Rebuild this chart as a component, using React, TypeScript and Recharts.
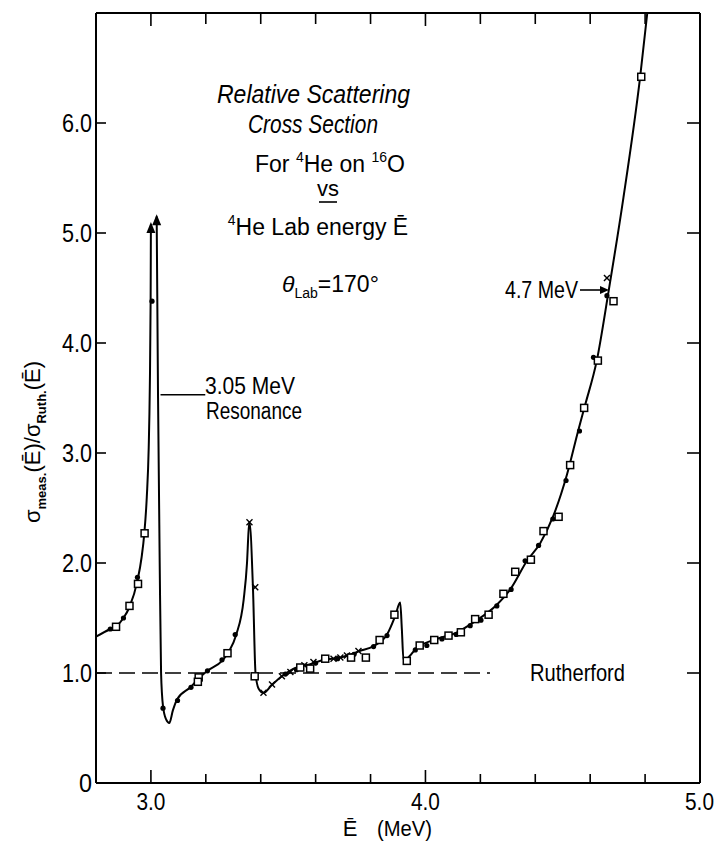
import React from 'react';
import { ComposedChart, Line, Scatter, XAxis, YAxis, ReferenceLine } from 'recharts';

// smooth curve through the measurements, [E (MeV), sigma ratio]
const curveLeft: [number, number][] = [
  [2.8, 1.33], [2.852, 1.4], [2.876, 1.43], [2.9, 1.5], [2.922, 1.6], [2.951, 1.84],
  [2.966, 2.05], [2.976, 2.27], [2.985, 2.6], [2.992, 3.05], [2.996, 3.6], [2.999, 4.4], [3.0, 5.08],
];
const curveRight: [number, number][] = [
  [3.021, 5.15], [3.026, 3.5], [3.032, 2.0], [3.037, 1.0], [3.044, 0.7], [3.055, 0.58], [3.067, 0.545],
  [3.08, 0.66], [3.095, 0.76], [3.146, 0.875], [3.174, 0.95], [3.206, 1.02], [3.259, 1.11],
  [3.283, 1.19], [3.311, 1.35], [3.338, 1.67], [3.35, 2.0], [3.356, 2.3], [3.359, 2.37],
  [3.372, 1.75], [3.381, 1.0], [3.392, 0.86], [3.41, 0.82], [3.44, 0.89], [3.477, 0.97],
  [3.52, 1.04], [3.58, 1.08], [3.63, 1.12], [3.69, 1.14], [3.73, 1.17], [3.76, 1.2],
  [3.811, 1.245], [3.86, 1.35], [3.89, 1.52], [3.908, 1.64], [3.914, 1.4], [3.92, 1.12],
  [3.932, 1.13], [3.969, 1.23], [4.03, 1.3], [4.115, 1.37], [4.175, 1.46], [4.26, 1.62],
  [4.309, 1.76], [4.37, 2.02], [4.418, 2.18], [4.466, 2.43], [4.515, 2.8], [4.557, 3.21],
  [4.582, 3.44], [4.624, 3.84], [4.667, 4.47], [4.721, 5.32], [4.782, 6.42], [4.808, 7.0],
];

const openSquares: [number, number][] = [
  [2.873, 1.42], [2.922, 1.61], [2.953, 1.81], [2.977, 2.27], [3.174, 0.96], [3.171, 0.92],
  [3.279, 1.18], [3.378, 0.97], [3.544, 1.05], [3.58, 1.04], [3.635, 1.13], [3.729, 1.14],
  [3.783, 1.14], [3.833, 1.3], [3.887, 1.53], [3.932, 1.11], [3.979, 1.25], [4.032, 1.3],
  [4.084, 1.34], [4.129, 1.37], [4.181, 1.49], [4.23, 1.53], [4.284, 1.72], [4.327, 1.92],
  [4.384, 2.03], [4.43, 2.29], [4.485, 2.42], [4.527, 2.89], [4.578, 3.41], [4.628, 3.84],
  [4.685, 4.38], [4.786, 6.42],
];

const filledDots: [number, number][] = [
  [2.852, 1.4], [2.9, 1.5], [2.951, 1.87], [3.004, 4.38], [3.044, 0.68], [3.097, 0.75],
  [3.146, 0.87], [3.206, 1.02], [3.259, 1.12], [3.307, 1.35], [3.49, 0.99], [3.53, 1.03],
  [3.6, 1.09], [3.68, 1.13], [3.74, 1.17], [3.811, 1.24], [3.86, 1.34], [3.963, 1.21],
  [4.005, 1.25], [4.06, 1.31], [4.112, 1.35], [4.163, 1.43], [4.202, 1.48], [4.26, 1.61],
  [4.312, 1.76], [4.363, 2.02], [4.412, 2.16], [4.464, 2.4], [4.512, 2.75], [4.561, 3.2],
  [4.612, 3.87], [4.661, 4.43],
];

const crosses: [number, number][] = [
  [3.359, 2.37], [3.38, 1.78], [3.41, 0.82], [3.441, 0.895], [3.477, 0.97], [3.508, 1.01],
  [3.559, 1.07], [3.592, 1.1], [3.665, 1.13], [3.69, 1.14], [3.714, 1.16], [3.756, 1.2],
  [4.661, 4.59],
];

const peakArrows: [number, number][] = [[3.0, 5.1], [3.021, 5.17]];

const xTicks = [3.0, 3.2, 3.4, 3.6, 3.8, 4.0, 4.2, 4.4, 4.6, 4.8, 5.0];
const xLabels = [3.0, 4.0, 5.0];
const yTicks = [0, 1, 2, 3, 4, 5, 6];

const rutherfordEnd = 4.235;
const resonancePointer: [number, number][] = [[3.035, 3.53], [3.198, 3.53]];

const toPoints = (arr: [number, number][]) => arr.map(([E, v]) => ({ E, v }));
const curveData = [...toPoints(curveLeft), { E: 3.01, v: null }, ...toPoints(curveRight)];

const FONT = "'Liberation Sans', Arial, sans-serif";

const BottomTick = (props: any) => {
  const { x, y, payload } = props;
  const major = xLabels.includes(payload.value);
  const last = payload.value === 5.0;
  return (
    <g>
      <line x1={x} y1={y} x2={x} y2={y - (major ? 13 : 9)} stroke="#000" strokeWidth={1.6} />
      {major && (
        <text x={last ? x + 14 : x} y={y + 27} textAnchor={last ? 'end' : 'middle'} fontSize={23} fontFamily={FONT} fill="#000"
          textLength={29} lengthAdjust="spacingAndGlyphs">
          {payload.value.toFixed(1)}
        </text>
      )}
    </g>
  );
};

const TopTick = (props: any) => {
  const { x, y, payload } = props;
  const major = xLabels.includes(payload.value);
  return <line x1={x} y1={y} x2={x} y2={y + (major ? 13 : 11)} stroke="#000" strokeWidth={1.6} />;
};

const LeftTick = (props: any) => {
  const { x, y, payload } = props;
  const label = payload.value === 0 ? '0' : payload.value.toFixed(1);
  return (
    <g>
      {payload.value > 0 && <line x1={x} y1={y} x2={x + 10} y2={y} stroke="#000" strokeWidth={1.6} />}
      <text x={x - 4} y={y + 9} textAnchor="end" fontSize={25} fontFamily={FONT} fill="#000"
        textLength={payload.value === 0 ? 13 : 30} lengthAdjust="spacingAndGlyphs">
        {label}
      </text>
    </g>
  );
};

const RightTick = (props: any) => {
  const { x, y, payload } = props;
  if (payload.value === 0) return <g />;
  return <line x1={x} y1={y} x2={x - 13} y2={y} stroke="#000" strokeWidth={1.6} />;
};

const OpenSquare = (props: any) => (
  <rect x={props.cx - 3.5} y={props.cy - 3.5} width={7} height={7} fill="#fff" stroke="#000" strokeWidth={1.5} />
);
const Dot = (props: any) => <circle cx={props.cx} cy={props.cy} r={2.6} fill="#000" />;
const Cross = (props: any) => (
  <g stroke="#000" strokeWidth={1.4}>
    <line x1={props.cx - 3} y1={props.cy - 3} x2={props.cx + 3} y2={props.cy + 3} />
    <line x1={props.cx - 3} y1={props.cy + 3} x2={props.cx + 3} y2={props.cy - 3} />
  </g>
);
const ArrowHead = (props: any) => (
  <path d={`M${props.cx},${props.cy} L${props.cx - 4.5},${props.cy + 11} L${props.cx + 4.5},${props.cy + 11} Z`} fill="#000" />
);

export default function App() {
  return (
    <div style={{ position: 'absolute', left: 0, top: 0, width: 717, height: 843, background: '#fff' }}>
      <ComposedChart width={717} height={843} margin={{ top: 12, right: 16, bottom: 0, left: 36 }}>
        <XAxis
          xAxisId="b"
          type="number"
          dataKey="E"
          domain={[2.8, 5.0]}
          ticks={xTicks}
          interval={0}
          height={60}
          tickSize={0}
          tickMargin={0}
          tickLine={false}
          axisLine={{ stroke: '#000', strokeWidth: 2 }}
          tick={<BottomTick />}
          allowDataOverflow
        />
        <XAxis
          xAxisId="t"
          orientation="top"
          type="number"
          dataKey="E"
          domain={[2.8, 5.0]}
          ticks={xTicks}
          interval={0}
          height={1}
          tickSize={0}
          tickMargin={0}
          tickLine={false}
          axisLine={{ stroke: '#000', strokeWidth: 2 }}
          tick={<TopTick />}
          allowDataOverflow
        />
        <YAxis
          yAxisId="l"
          type="number"
          domain={[0, 7]}
          ticks={yTicks}
          interval={0}
          width={60}
          tickSize={0}
          tickMargin={0}
          tickLine={false}
          axisLine={{ stroke: '#000', strokeWidth: 2 }}
          tick={<LeftTick />}
          allowDataOverflow
        />
        <YAxis
          yAxisId="r"
          orientation="right"
          type="number"
          domain={[0, 7]}
          ticks={yTicks}
          interval={0}
          width={1}
          tickSize={0}
          tickMargin={0}
          tickLine={false}
          axisLine={{ stroke: '#000', strokeWidth: 2 }}
          tick={<RightTick />}
          allowDataOverflow
        />

        <ReferenceLine
          xAxisId="b"
          yAxisId="l"
          segment={[{ x: 2.8, y: 1 }, { x: rutherfordEnd, y: 1 }]}
          stroke="#000"
          strokeWidth={1.4}
          strokeDasharray="16 7"
        />
        <ReferenceLine
          xAxisId="b"
          yAxisId="l"
          segment={resonancePointer.map(([x, y]) => ({ x, y }))}
          stroke="#000"
          strokeWidth={1.6}
        />

        <Line
          xAxisId="b"
          yAxisId="l"
          data={curveData}
          dataKey="v"
          type="monotone"
          stroke="#000"
          strokeWidth={2}
          dot={false}
          activeDot={false}
          connectNulls={false}
          isAnimationActive={false}
        />
        <Scatter xAxisId="b" yAxisId="l" data={toPoints(peakArrows)} dataKey="v" shape={<ArrowHead />} isAnimationActive={false} />
        <Scatter xAxisId="b" yAxisId="l" data={toPoints(filledDots)} dataKey="v" shape={<Dot />} isAnimationActive={false} />
        <Scatter xAxisId="b" yAxisId="l" data={toPoints(crosses)} dataKey="v" shape={<Cross />} isAnimationActive={false} />
        <Scatter xAxisId="b" yAxisId="l" data={toPoints(openSquares)} dataKey="v" shape={<OpenSquare />} isAnimationActive={false} />
      </ComposedChart>

      <svg width={717} height={843} style={{ position: 'absolute', left: 0, top: 0, pointerEvents: 'none' }} fontFamily={FONT} fill="#000">
        <text x={217} y={103} fontSize={25} fontStyle="italic" textLength={193} lengthAdjust="spacingAndGlyphs">Relative Scattering</text>
        <text x={248} y={133} fontSize={25} fontStyle="italic" textLength={130} lengthAdjust="spacingAndGlyphs">Cross Section</text>
        <text x={330} y={172} textAnchor="middle" fontSize={23}>
          For <tspan fontSize={14} dy={-10}>4</tspan><tspan dy={10}>He  on </tspan><tspan fontSize={14} dy={-10}>16</tspan><tspan dy={10}>O</tspan>
        </text>
        <text x={328} y={196} textAnchor="middle" fontSize={22}>vs</text>
        <line x1={319} y1={202} x2={337} y2={202} stroke="#000" strokeWidth={1.6} />
        <text x={318} y={235} textAnchor="middle" fontSize={23}>
          <tspan fontSize={14} dy={-10}>4</tspan><tspan dy={10}>He Lab energy Ē</tspan>
        </text>
        <text x={282} y={292} fontSize={23}>
          <tspan fontStyle="italic">θ</tspan><tspan fontSize={14} dy={6}>Lab</tspan><tspan dy={-6}>=170°</tspan>
        </text>

        <text x={205} y={394} fontSize={23} textLength={90} lengthAdjust="spacingAndGlyphs">3.05 MeV</text>
        <text x={206} y={419} fontSize={23} textLength={96} lengthAdjust="spacingAndGlyphs">Resonance</text>

        <text x={505} y={298} fontSize={24} textLength={73} lengthAdjust="spacingAndGlyphs">4.7 MeV</text>
        <line x1={580} y1={290} x2={604} y2={290} stroke="#000" strokeWidth={1.6} />
        <path d="M609,290 L600,286 L600,294 Z" fill="#000" />

        <text x={530} y={681} fontSize={24} textLength={95} lengthAdjust="spacingAndGlyphs">Rutherford</text>

        <text x={350} y={836} textAnchor="middle" fontSize={22}>Ē</text>
        <text x={377} y={836} fontSize={22} textLength={55} lengthAdjust="spacingAndGlyphs">(MeV)</text>

        <text transform="translate(40,442) rotate(-90)" textAnchor="middle" fontSize={22}>
          σ<tspan fontSize={13} fontWeight="bold" dy={6}>meas.</tspan><tspan dy={-6}>(Ē)/σ</tspan><tspan fontSize={13} fontWeight="bold" dy={6}>Ruth.</tspan><tspan dy={-6}>(Ē)</tspan>
        </text>
      </svg>
    </div>
  );
}
